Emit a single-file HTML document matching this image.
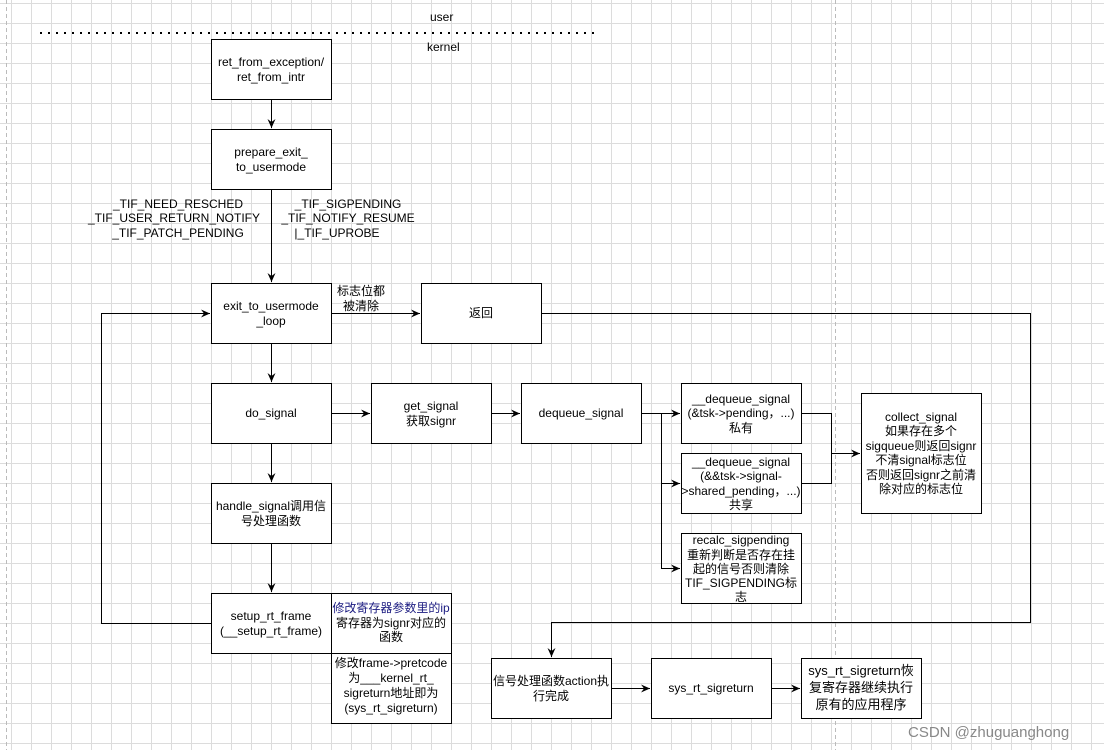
<!DOCTYPE html>
<html><head><meta charset="utf-8"><style>
body{margin:0;background:#fff}
svg text{font-family:"Liberation Sans","Noto Sans CJK SC",sans-serif;font-size:12px;fill:#000}
</style></head><body>
<svg width="1104" height="750" xmlns="http://www.w3.org/2000/svg">
<defs>
<pattern id="g" width="20" height="20" patternUnits="userSpaceOnUse" x="11" y="3">
<path d="M0 0.5H20M0.5 0V20" stroke="#dcdcdc" stroke-width="1" fill="none"/>
</pattern>
<marker id="a" markerWidth="10" markerHeight="10" refX="9" refY="5" orient="auto" markerUnits="userSpaceOnUse">
<path d="M0,1 L9,5 L0,9 L3,5 Z" fill="#000"/>
</marker>
</defs>
<rect width="1104" height="750" fill="#fff"/>
<rect width="1104" height="750" fill="url(#g)"/>
<line x1="6.5" y1="0" x2="6.5" y2="750" stroke="#bbb" stroke-dasharray="4,3"/>
<line x1="835.5" y1="0" x2="835.5" y2="750" stroke="#bbb" stroke-dasharray="4,3"/>
<line x1="40" y1="33" x2="596" y2="33" stroke="#000" stroke-width="2" stroke-dasharray="2,6"/>
<text x="430" y="21">user</text>
<text x="427" y="51">kernel</text>
<g fill="#fff" stroke="#000" stroke-width="1">
<rect x="211.5" y="39.5" width="120" height="60"/>
<rect x="211.5" y="129.5" width="120" height="60"/>
<rect x="211.5" y="283.5" width="120" height="60"/>
<rect x="421.5" y="283.5" width="120" height="60"/>
<rect x="211.5" y="383.5" width="120" height="60"/>
<rect x="371.5" y="383.5" width="120" height="60"/>
<rect x="521.5" y="383.5" width="120" height="60"/>
<rect x="681.5" y="383.5" width="120" height="60"/>
<rect x="681.5" y="453.5" width="120" height="60"/>
<rect x="681.5" y="533.5" width="120" height="70"/>
<rect x="861.5" y="393.5" width="120" height="120"/>
<rect x="211.5" y="483.5" width="120" height="60"/>
<rect x="211.5" y="593.5" width="120" height="60"/>
<rect x="331.5" y="593.5" width="120" height="60"/>
<rect x="331.5" y="653.5" width="120" height="70"/>
<rect x="491.5" y="658.5" width="120" height="60"/>
<rect x="651.5" y="658.5" width="120" height="60"/>
<rect x="801.5" y="658.5" width="120" height="60"/>
</g>
<g stroke="#000" stroke-width="1" fill="none">
<path d="M271.5 100V128" marker-end="url(#a)"/>
<path d="M271.5 190V282" marker-end="url(#a)"/>
<path d="M332 313.5H420" marker-end="url(#a)"/>
<path d="M271.5 344V382" marker-end="url(#a)"/>
<path d="M332 413.5H370" marker-end="url(#a)"/>
<path d="M492 413.5H520" marker-end="url(#a)"/>
<path d="M642 413.5H680" marker-end="url(#a)"/>
<path d="M661.5 413.5V568.5H680" marker-end="url(#a)"/>
<path d="M661.5 483.5H680" marker-end="url(#a)"/>
<path d="M802 413.5H831.5V483.5H802"/>
<path d="M831.5 453.5H860" marker-end="url(#a)"/>
<path d="M271.5 444V482" marker-end="url(#a)"/>
<path d="M271.5 544V592" marker-end="url(#a)"/>
<path d="M211 623.5H101.5V313.5H210" marker-end="url(#a)"/>
<path d="M542 313.5H1030.5V622.5H551.5V657" marker-end="url(#a)"/>
<path d="M612 688.5H650" marker-end="url(#a)"/>
<path d="M772 688.5H800" marker-end="url(#a)"/>
</g>
<g text-anchor="middle">
<text x="271" y="66">ret_from_exception/</text>
<text x="271" y="81">ret_from_intr</text>
<text x="271" y="156">prepare_exit_</text>
<text x="271" y="171">to_usermode</text>
<text x="178" y="208">_TIF_NEED_RESCHED</text>
<text x="174" y="222">_TIF_USER_RETURN_NOTIFY</text>
<text x="178" y="237">_TIF_PATCH_PENDING</text>
<text x="348" y="208">_TIF_SIGPENDING</text>
<text x="348" y="222">_TIF_NOTIFY_RESUME</text>
<text x="337" y="237">|_TIF_UPROBE</text>
<text x="271" y="310">exit_to_usermode</text>
<text x="271" y="325">_loop</text>
<text x="361" y="295">标志位都</text>
<text x="361" y="310">被清除</text>
<text x="481" y="317">返回</text>
<text x="271" y="417">do_signal</text>
<text x="431" y="410">get_signal</text>
<text x="431" y="425">获取signr</text>
<text x="581" y="417">dequeue_signal</text>
<text x="741" y="403">__dequeue_signal</text>
<text x="741" y="417">(&amp;tsk-&gt;pending，...)</text>
<text x="741" y="432">私有</text>
<text x="741" y="466">__dequeue_signal</text>
<text x="741" y="480">(&amp;&amp;tsk-&gt;signal-</text>
<text x="741" y="495">&gt;shared_pending，...)</text>
<text x="741" y="509">共享</text>
<text x="741" y="544">recalc_sigpending</text>
<text x="741" y="559">重新判断是否存在挂</text>
<text x="741" y="573">起的信号否则清除</text>
<text x="741" y="587">TIF_SIGPENDING标</text>
<text x="741" y="601">志</text>
<text x="921" y="421">collect_signal</text>
<text x="921" y="435">如果存在多个</text>
<text x="921" y="450">sigqueue则返回signr</text>
<text x="921" y="464">不清signal标志位</text>
<text x="921" y="479">否则返回signr之前清</text>
<text x="921" y="493">除对应的标志位</text>
<text x="271" y="510">handle_signal调用信</text>
<text x="271" y="525">号处理函数</text>
<text x="271" y="620">setup_rt_frame</text>
<text x="271" y="635">(__setup_rt_frame)</text>
<text x="391" y="612" style="fill:#1a1a80">修改寄存器参数里的ip</text>
<text x="391" y="627">寄存器为signr对应的</text>
<text x="391" y="641">函数</text>
<text x="391" y="667">修改frame-&gt;pretcode</text>
<text x="391" y="682">为___kernel_rt_</text>
<text x="391" y="697">sigreturn地址即为</text>
<text x="391" y="712">(sys_rt_sigreturn)</text>
<text x="551" y="685">信号处理函数action执</text>
<text x="551" y="700">行完成</text>
<text x="711" y="692">sys_rt_sigreturn</text>
<text x="861" y="675" style="font-size:13px">sys_rt_sigreturn恢</text>
<text x="861" y="692" style="font-size:13px">复寄存器继续执行</text>
<text x="861" y="709" style="font-size:13px">原有的应用程序</text>
</g>
<text x="908" y="737" style="font-size:15px;fill:#888">CSDN @zhuguanghong</text>
</svg>
</body></html>
